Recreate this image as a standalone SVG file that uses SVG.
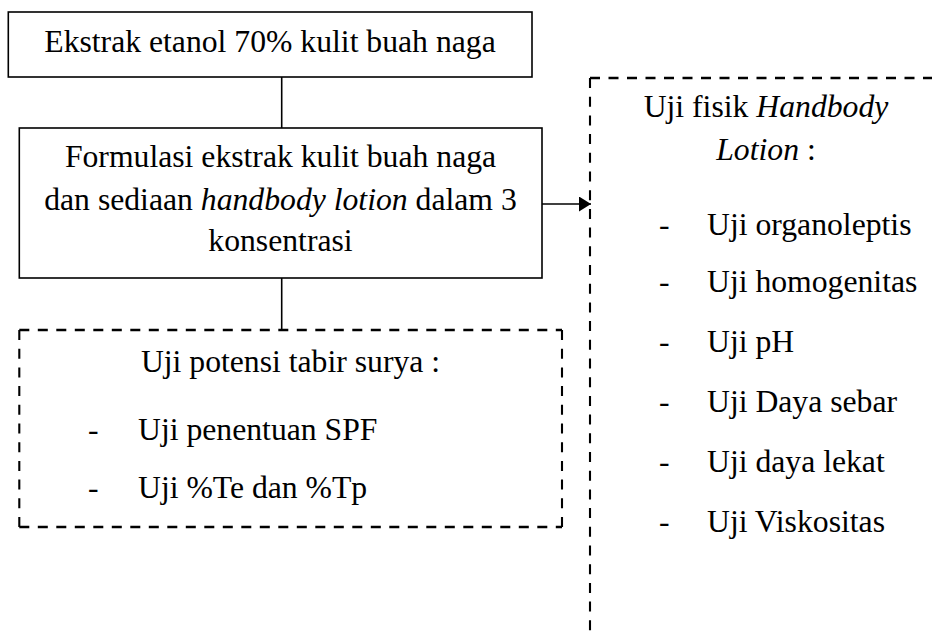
<svg xmlns="http://www.w3.org/2000/svg" width="932" height="639" viewBox="0 0 932 639">
<defs>
<style>
text{font-family:"Liberation Serif","Times New Roman",serif;font-size:31.7px;fill:#000}
.c{text-anchor:middle}
.i{font-style:italic}
.box{fill:#fff;stroke:#000;stroke-width:1.6}
.dh{fill:none;stroke:#000;stroke-width:2.4;stroke-dasharray:10 8.5}
.dv{fill:none;stroke:#000;stroke-width:2.1;stroke-dasharray:10 8.7}
.ln{fill:none;stroke:#000;stroke-width:1.6}
</style>
<marker id="arr" markerUnits="userSpaceOnUse" markerWidth="14" markerHeight="16" refX="12" refY="7.5" orient="auto">
<path d="M0,0 L12,7.5 L0,15 Z" fill="#000"/>
</marker>
</defs>
<rect width="932" height="639" fill="#fff"/>
<g id="connectors">
<line class="ln" x1="281.7" y1="77" x2="281.7" y2="128"/>
<line class="ln" x1="281.7" y1="278" x2="281.7" y2="330"/>
<line class="ln" x1="542" y1="204" x2="591" y2="204" marker-end="url(#arr)"/>
</g>
<g id="node-ekstrak">
<rect class="box" x="8.3" y="12" width="523.7" height="65"/>
<text class="c" x="270" y="52">Ekstrak etanol 70%  kulit buah naga</text>
</g>
<g id="node-formulasi">
<rect class="box" x="19.3" y="128" width="522.7" height="150"/>
<text class="c" x="280.5" y="167">Formulasi ekstrak kulit buah naga</text>
<text class="c" x="280.5" y="210">dan sediaan <tspan class="i">handbody lotion</tspan> dalam 3</text>
<text class="c" x="280.5" y="251">konsentrasi</text>
</g>
<g id="node-tabir-surya">
<path class="dh" d="M19.3,330 H562 M19.3,527 H562"/>
<path class="dv" d="M19.3,330 V527 M562,330 V527"/>
<text class="c" x="290.5" y="372">Uji potensi tabir surya :</text>
<text x="88" y="440">-</text>
<text x="138" y="440">Uji penentuan SPF</text>
<text x="88" y="498">-</text>
<text x="138" y="498">Uji %Te dan %Tp</text>
</g>
<g id="node-uji-fisik">
<path class="dh" d="M590,78 H932"/>
<path class="dv" d="M590,78 V639"/>
<text class="c" x="766" y="117">Uji fisik <tspan class="i">Handbody</tspan></text>
<text class="c" x="766" y="160"><tspan class="i">Lotion</tspan> :</text>
<text x="659" y="235">-</text>
<text x="707" y="235">Uji organoleptis</text>
<text x="659" y="292">-</text>
<text x="707" y="292">Uji homogenitas</text>
<text x="659" y="352">-</text>
<text x="707" y="352">Uji pH</text>
<text x="659" y="412">-</text>
<text x="707" y="412">Uji Daya sebar</text>
<text x="659" y="472">-</text>
<text x="707" y="472">Uji daya lekat</text>
<text x="659" y="532">-</text>
<text x="707" y="532">Uji Viskositas</text>
</g>
</svg>
